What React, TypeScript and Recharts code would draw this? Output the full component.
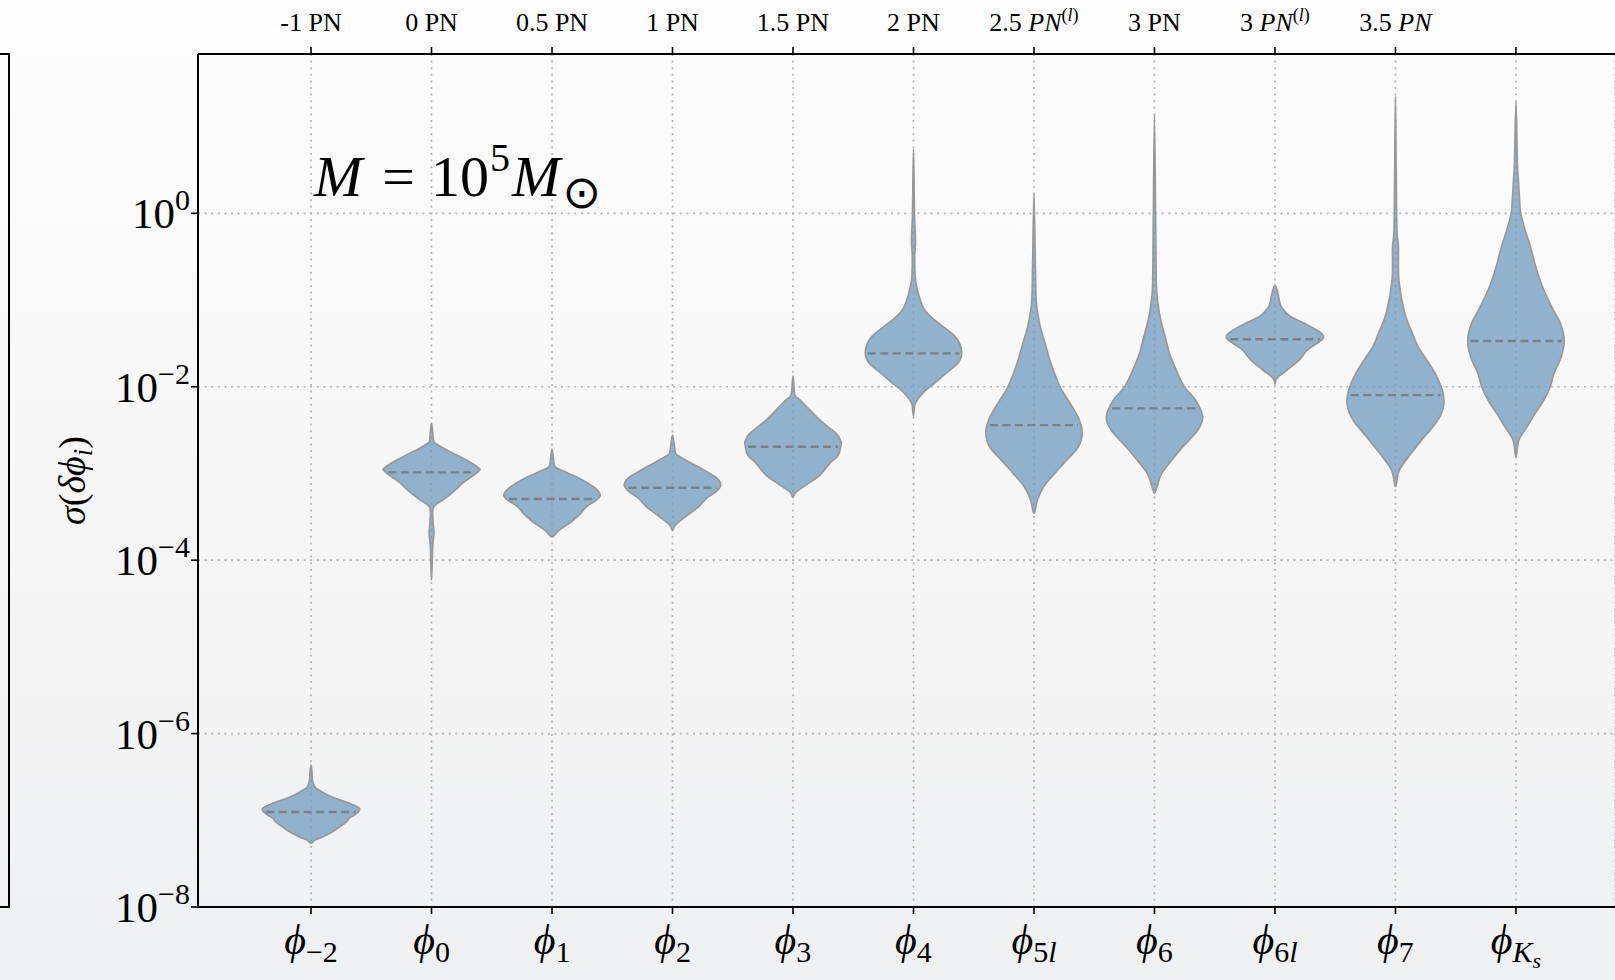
import React from "react";
import { ComposedChart, Scatter, XAxis, YAxis, CartesianGrid, ReferenceDot } from "recharts";

const SERIF = '"Liberation Serif", "DejaVu Serif", serif';

// bottom axis: subscript of each phase coefficient
const coeffSubs = ["−2", "0", "1", "2", "3", "4", "5l", "6", "6l", "7", "Ks"];
// top axis: post-Newtonian order of each coefficient
const pnOrders = ["-1", "0", "0.5", "1", "1.5", "2", "2.5", "3", "3", "3.5"];
const pnItalic = [false, false, false, false, false, false, true, false, true, true];
const pnLogTerm = [false, false, false, false, false, false, true, false, true, false];

const yTicks = [1e-8, 1e-6, 1e-4, 1e-2, 1];
const annotationLevel = 1.585;

// violin profiles, bottom -> top: [log10 sigma, relative half width]
const phiM2 = [[-7.263, 0], [-7.228, 0.08], [-7.194, 0.23], [-7.136, 0.44], [-7.067, 0.62], [-7.009, 0.75], [-6.975, 0.79], [-6.946, 0.88], [-6.905, 0.98], [-6.859, 1.0], [-6.802, 0.79], [-6.732, 0.44], [-6.652, 0.17], [-6.617, 0.08], [-6.536, 0.03], [-6.444, 0.02], [-6.363, 0]];
const phi0 = [[-4.23, 0], [-3.83, 0.025], [-3.69, 0.05], [-3.55, 0.03], [-3.388, 0.04], [-3.307, 0.23], [-3.226, 0.42], [-3.157, 0.56], [-3.099, 0.67], [-3.018, 0.88], [-2.961, 1.0], [-2.938, 0.98], [-2.88, 0.83], [-2.807, 0.59], [-2.73, 0.31], [-2.649, 0.07], [-2.615, 0.04], [-2.419, 0]];
const phi1 = [[-3.73, 0], [-3.653, 0.15], [-3.557, 0.4], [-3.457, 0.6], [-3.384, 0.71], [-3.307, 0.92], [-3.257, 1.0], [-3.191, 0.94], [-3.111, 0.74], [-3.038, 0.5], [-2.961, 0.19], [-2.92, 0.06], [-2.823, 0.03], [-2.722, 0]];
const phi2 = [[-3.653, 0], [-3.595, 0.06], [-3.499, 0.27], [-3.384, 0.54], [-3.284, 0.71], [-3.211, 0.9], [-3.134, 1.0], [-3.053, 0.92], [-2.961, 0.65], [-2.845, 0.27], [-2.78, 0.08], [-2.73, 0.05], [-2.557, 0]];
const phi3 = [[-3.272, 0], [-3.215, 0.06], [-3.134, 0.27], [-3.018, 0.56], [-2.88, 0.77], [-2.788, 0.94], [-2.649, 1.0], [-2.615, 0.98], [-2.54, 0.9], [-2.384, 0.56], [-2.153, 0.15], [-2.096, 0.04], [-1.877, 0]];
const phi4 = [[-2.338, 0], [-2.269, 0.015], [-2.188, 0.04], [-2.073, 0.19], [-1.957, 0.44], [-1.845, 0.67], [-1.73, 0.92], [-1.615, 1.0], [-1.461, 0.92], [-1.346, 0.71], [-1.231, 0.44], [-1.115, 0.23], [-0.962, 0.12], [-0.769, 0.04], [-0.504, 0.025], [-0.35, 0.04], [-0.193, 0.035], [0.003, 0.02], [0.742, 0]];
const phi5l = [[-3.46, 0], [-3.307, 0.07], [-3.153, 0.2], [-2.999, 0.43], [-2.845, 0.68], [-2.692, 0.92], [-2.537, 1.0], [-2.384, 0.94], [-2.191, 0.75], [-2.0, 0.54], [-1.73, 0.35], [-1.499, 0.23], [-1.308, 0.13], [-1.038, 0.05], [-0.654, 0.03], [0.23, 0]];
const phi6 = [[-3.23, 0], [-3.153, 0.05], [-2.999, 0.15], [-2.845, 0.36], [-2.692, 0.59], [-2.499, 0.9], [-2.346, 1.0], [-2.153, 0.85], [-2.0, 0.62], [-1.807, 0.45], [-1.615, 0.31], [-1.423, 0.22], [-1.231, 0.13], [-1.038, 0.07], [-0.847, 0.04], [-0.461, 0.03], [1.134, 0]];
const phi6l = [[-1.961, 0], [-1.9, 0.04], [-1.807, 0.25], [-1.692, 0.5], [-1.577, 0.67], [-1.496, 0.88], [-1.442, 1.0], [-1.381, 0.96], [-1.265, 0.6], [-1.193, 0.33], [-1.077, 0.13], [-0.919, 0.06], [-0.827, 0]];
const phi7 = [[-3.153, 0], [-2.961, 0.08], [-2.765, 0.33], [-2.577, 0.6], [-2.384, 0.88], [-2.211, 1.0], [-2.038, 0.97], [-1.842, 0.82], [-1.692, 0.65], [-1.539, 0.47], [-1.381, 0.35], [-1.15, 0.19], [-0.769, 0.07], [-0.385, 0.06], [-0.193, 0.03], [0.5, 0.015], [1.353, 0]];
const phiKs = [[-2.807, 0], [-2.615, 0.06], [-2.461, 0.23], [-2.307, 0.4], [-2.153, 0.58], [-2.0, 0.71], [-1.845, 0.79], [-1.654, 0.94], [-1.461, 1.0], [-1.269, 0.92], [-1.077, 0.74], [-0.847, 0.55], [-0.616, 0.41], [-0.385, 0.3], [-0.193, 0.19], [0.0, 0.1], [0.115, 0.08], [0.384, 0.05], [0.576, 0.03], [1.287, 0]];

const profiles = [phiM2, phi0, phi1, phi2, phi3, phi4, phi5l, phi6, phi6l, phi7, phiKs];
// log10 of the median of each distribution
const medians = [-6.905, -2.987, -3.295, -3.165, -2.692, -1.615, -2.442, -2.249, -1.453, -2.096, -1.473];

const HALF = 0.4;
const xDomain = [-0.938, 10.822];
const catTicks = coeffSubs.map((_, i) => i);

function outlineOf(profile: number[][], i: number) {
  const right = profile.map(([l, w]) => ({ x: i + w * HALF, y: Math.pow(10, l) }));
  const left = profile.slice(1, -1).reverse().map(([l, w]) => ({ x: i - w * HALF, y: Math.pow(10, l) }));
  return [...right, ...left];
}

function widthAt(profile: number[][], l: number) {
  for (let k = 1; k < profile.length; k++) {
    const [l0, w0] = profile[k - 1];
    const [l1, w1] = profile[k];
    if (l >= l0 && l <= l1) return w0 + ((w1 - w0) * (l - l0)) / (l1 - l0);
  }
  return 0;
}

function medianOf(profile: number[][], m: number, i: number) {
  const w = widthAt(profile, m) * HALF * 0.95;
  return [{ x: i - w, y: Math.pow(10, m) }, { x: i + w, y: Math.pow(10, m) }];
}

function closedPath(pts: { x: number; y: number }[]) {
  const n = pts.length;
  if (!n) return "";
  let d = `M${pts[0].x},${pts[0].y}`;
  for (let k = 0; k < n; k++) {
    const p0 = pts[(k - 1 + n) % n];
    const p1 = pts[k];
    const p2 = pts[(k + 1) % n];
    const p3 = pts[(k + 2) % n];
    const c1x = p1.x + (p2.x - p0.x) / 6;
    const c1y = p1.y + (p2.y - p0.y) / 6;
    const c2x = p2.x - (p3.x - p1.x) / 6;
    const c2y = p2.y - (p3.y - p1.y) / 6;
    d += `C${c1x},${c1y},${c2x},${c2y},${p2.x},${p2.y}`;
  }
  return d + "Z";
}

// slightly translucent so the dotted grid stays visible through the violins
const ViolinBody = (props: any) => (
  <path
    d={closedPath(props.points || [])}
    fill="rgb(112,157,190)"
    fillOpacity={0.76}
    stroke="#989898"
    strokeWidth={1.7}
  />
);

const NoDot = () => null;

function BottomTick({ x, y, payload }: any) {
  const sub = coeffSubs[Math.round(payload.value)];
  if (sub === undefined) return null;
  let subNode: React.ReactNode;
  if (sub === "Ks") {
    subNode = (
      <>
        <tspan fontStyle="italic" fontSize={30} dy={8}>K</tspan>
        <tspan fontStyle="italic" fontSize={22} dy={6}>s</tspan>
      </>
    );
  } else {
    subNode = (
      <tspan fontSize={30} dy={8}>
        {sub.split("").map((c, k) => (
          <tspan key={k} fontStyle={/[a-z]/i.test(c) ? "italic" : "normal"}>{c}</tspan>
        ))}
      </tspan>
    );
  }
  return (
    <text x={x} y={y} dy={32} textAnchor="middle" fontFamily={SERIF} fontSize={42} fill="#000">
      <tspan fontStyle="italic">ϕ</tspan>
      {subNode}
    </text>
  );
}

function TopTick({ x, y, payload }: any) {
  const i = Math.round(payload.value);
  if (i >= pnOrders.length) return null;
  return (
    <text x={x} y={y} textAnchor="middle" fontFamily={SERIF} fontSize={26} fill="#000">
      {pnOrders[i] + " "}
      <tspan fontStyle={pnItalic[i] ? "italic" : "normal"}>PN</tspan>
      {pnLogTerm[i] && (
        <tspan fontSize={18} dy={-10}>
          (<tspan fontStyle="italic">l</tspan>)
        </tspan>
      )}
    </text>
  );
}

function YTick({ x, y, payload }: any) {
  const e = Math.round(Math.log10(payload.value));
  return (
    <text x={x} y={y} dy={15} textAnchor="end" fontFamily={SERIF} fontSize={43} fill="#000">
      10
      <tspan fontSize={30} dy={-18}>{e < 0 ? "−" + -e : String(e)}</tspan>
    </text>
  );
}

const YLabel = ({ viewBox }: any) => {
  const cx = viewBox.x + 45;
  const cy = viewBox.y + viewBox.height / 2;
  return (
    <text x={cx} y={cy} transform={`rotate(-90, ${cx}, ${cy})`} textAnchor="middle" fontFamily={SERIF} fontSize={38} fill="#000">
      <tspan fontStyle="italic">σ</tspan>(<tspan fontStyle="italic">δϕ</tspan>
      <tspan fontStyle="italic" fontSize={27} dy={7}>i</tspan>
      <tspan dy={-7}>)</tspan>
    </text>
  );
};

const MassNote = ({ viewBox }: any) => {
  const x = viewBox.x + viewBox.width / 2 + 3;
  const y = viewBox.y + viewBox.height / 2;
  return (
    <text x={x} y={y} fontFamily={SERIF} fontSize={58} fill="#000">
      <tspan fontStyle="italic">M</tspan>
      <tspan dx={20}>=</tspan>
      <tspan dx={16}>10</tspan>
      <tspan fontSize={40} dy={-25} dx={1}>5</tspan>
      <tspan fontStyle="italic" dy={25} dx={2}>M</tspan>
      <tspan fontFamily='"DejaVu Sans", sans-serif' fontSize={46} dy={12} dx={2}>⊙</tspan>
    </text>
  );
};

export default function App() {
  const axisLine = { stroke: "#000", strokeWidth: 2 };
  const tickLine = { stroke: "#000", strokeWidth: 1.6 };
  return (
    <div
      style={{
        position: "fixed",
        left: 0,
        top: 0,
        width: 1615,
        height: 980,
        overflow: "hidden",
        background: "linear-gradient(to bottom, #fdfdfd 0%, #f6f6f7 50%, #eff0f1 100%)",
      }}
    >
      <div style={{ position: "absolute", left: 0, top: 53, width: 8, height: 851, borderTop: "2px solid #000", borderBottom: "2px solid #000", borderRight: "2px solid #000" }} />
      <ComposedChart width={1615} height={980} margin={{ top: 14, right: 0, bottom: 13, left: 40 }}>
        <XAxis
          xAxisId="b"
          type="number"
          dataKey="x"
          domain={xDomain}
          allowDataOverflow
          ticks={catTicks}
          interval={0}
          tick={<BottomTick />}
          tickSize={7}
          tickMargin={8}
          height={60}
          axisLine={axisLine}
          tickLine={tickLine}
        />
        <XAxis
          xAxisId="t"
          orientation="top"
          type="number"
          dataKey="x"
          domain={xDomain}
          allowDataOverflow
          ticks={catTicks}
          interval={0}
          tick={<TopTick />}
          tickSize={7}
          tickMargin={16}
          height={40}
          axisLine={axisLine}
          tickLine={tickLine}
        />
        <YAxis
          type="number"
          dataKey="y"
          scale="log"
          domain={[1e-8, 68.8]}
          allowDataOverflow
          ticks={yTicks}
          interval={0}
          tick={<YTick />}
          tickSize={7}
          tickMargin={1}
          width={158}
          axisLine={axisLine}
          tickLine={tickLine}
          label={{ content: YLabel }}
        />
        <CartesianGrid xAxisId="b" stroke="#b0b0b0" strokeWidth={1.6} strokeDasharray="2 4.6" />
        {profiles.map((p, i) => (
          <Scatter
            key={`v${i}`}
            xAxisId="b"
            data={outlineOf(p, i)}
            line={ViolinBody}
            shape={NoDot}
            isAnimationActive={false}
          />
        ))}
        {profiles.map((p, i) => (
          <Scatter
            key={`m${i}`}
            xAxisId="b"
            data={medianOf(p, medians[i], i)}
            line={{ stroke: "#7f7f7f", strokeWidth: 2.4, strokeDasharray: "8 4.5" }}
            shape={NoDot}
            isAnimationActive={false}
          />
        ))}
        <ReferenceDot xAxisId="b" x={0} y={annotationLevel} r={0} ifOverflow="visible" label={{ content: MassNote }} />
      </ComposedChart>
    </div>
  );
}
